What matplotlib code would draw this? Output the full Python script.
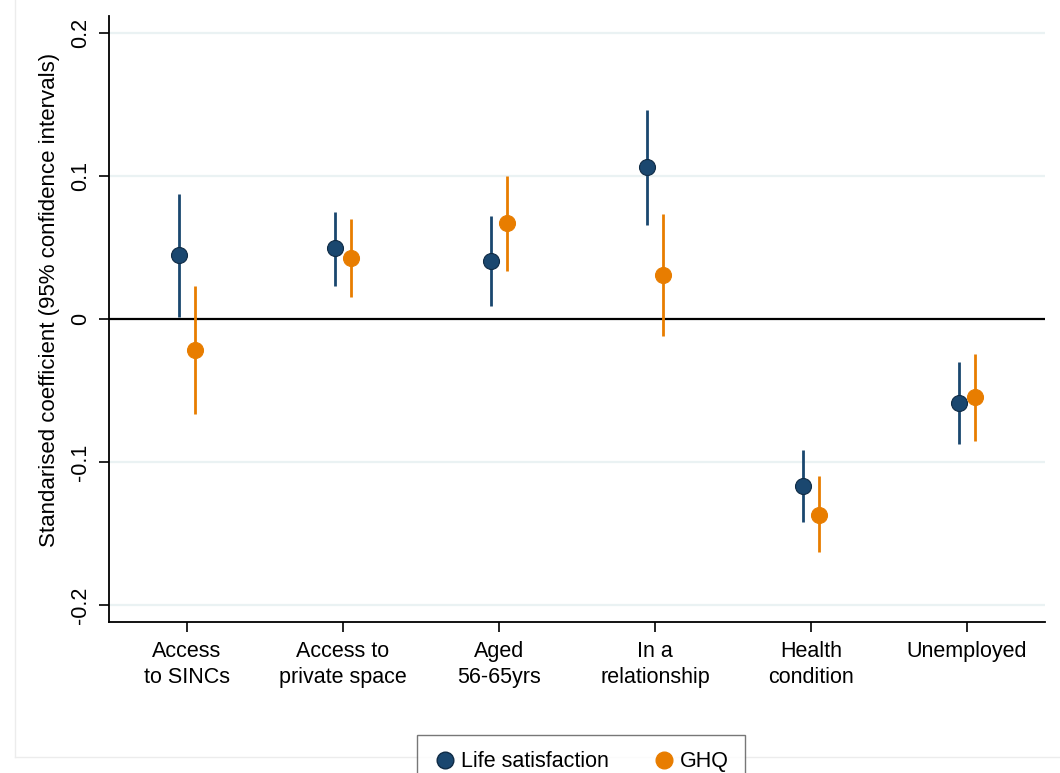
import matplotlib
matplotlib.use("Agg")
import matplotlib.pyplot as plt
from matplotlib.lines import Line2D
import numpy as np

plt.rcParams['font.family'] = ['Liberation Sans', 'DejaVu Sans']

categories = ["Access\nto SINCs", "Access to\nprivate space", "Aged\n56-65yrs",
              "In a\nrelationship", "Health\ncondition", "Unemployed"]

life_coef = [0.0448, 0.0497, 0.0406, 0.1060, -0.1167, -0.0590]
life_lo   = [0.0014, 0.0233, 0.0090, 0.0660, -0.1420, -0.0874]
life_hi   = [0.0874, 0.0750, 0.0720, 0.1462, -0.0917, -0.0303]

ghq_coef = [-0.0215, 0.0430, 0.0670, 0.0305, -0.1372, -0.0545]
ghq_lo   = [-0.0665, 0.0152, 0.0336, -0.0119, -0.1630, -0.0850]
ghq_hi   = [0.0234, 0.0699, 0.1003, 0.0733, -0.1098, -0.0245]

series_names = ["Life satisfaction", "GHQ"]
blue = "#1a476f"
orange = "#e87d00"
grid_col = "#eaf2f3"

fig = plt.figure(figsize=(10.6, 7.73), dpi=100)
ax = fig.add_axes([109/1060, 1-622/773, (1045-109)/1060, (622-16)/773])

x = np.arange(1, len(categories) + 1)
off = 0.05

for yv in [-0.2, -0.1, 0.1, 0.2]:
    ax.axhline(yv, color=grid_col, lw=1.6, zorder=0)
ax.axhline(0, color="black", lw=1.6, zorder=1)

ax.vlines(x - off, life_lo, life_hi, color=blue, lw=2.0, zorder=2)
ax.plot(x - off, life_coef, 'o', color=blue, mec="#0f2b45", mew=0.8, ms=11.5, zorder=3)
ax.vlines(x + off, ghq_lo, ghq_hi, color=orange, lw=2.0, zorder=2)
ax.plot(x + off, ghq_coef, 'o', color=orange, mec=orange, mew=0.8, ms=11.5, zorder=3)

ax.set_xlim(0.5, 6.5)
ax.set_ylim(-0.2119, 0.2119)
ax.set_xticks(x)
ax.set_xticklabels(categories, fontsize=15.5, linespacing=1.3)
ax.set_yticks([-0.2, -0.1, 0, 0.1, 0.2])
ax.set_yticklabels(["-0.2", "-0.1", "0", "0.1", "0.2"], fontsize=15.5, rotation=90, va='center')
ax.tick_params(axis='both', direction='out', length=7, width=1.2, color='black')
ax.tick_params(axis='x', pad=7)
ax.tick_params(axis='y', pad=6)
fig.text(50/1060, 1-300/773, "Standarised coefficient (95% confidence intervals)",
         rotation=90, ha='center', va='center', fontsize=16)

for s in ['top', 'right']:
    ax.spines[s].set_visible(False)
for s in ['left', 'bottom']:
    ax.spines[s].set_linewidth(1.3)

# faint outer frame
fig.add_artist(Line2D([15/1060, 15/1060], [1-757/773, 1.0], transform=fig.transFigure,
                      color="#ececec", lw=1))
fig.add_artist(Line2D([15/1060, 1.0], [1-757/773, 1-757/773], transform=fig.transFigure,
                      color="#ececec", lw=1))

handles = [Line2D([], [], marker='o', ls='none', color=blue, mec="#0f2b45", ms=12),
           Line2D([], [], marker='o', ls='none', color=orange, mec=orange, ms=12)]
leg = fig.legend(handles, series_names, loc='upper center', bbox_to_anchor=(581/1060, 1-735/773),
                 ncol=2, fontsize=15.5, frameon=True, fancybox=False, edgecolor="#555555",
                 handletextpad=0.2, columnspacing=2.0, borderpad=0.75, borderaxespad=0,
                 handlelength=1.1)
leg.get_frame().set_linewidth(1.0)

fig.savefig("out.png", dpi=100)
